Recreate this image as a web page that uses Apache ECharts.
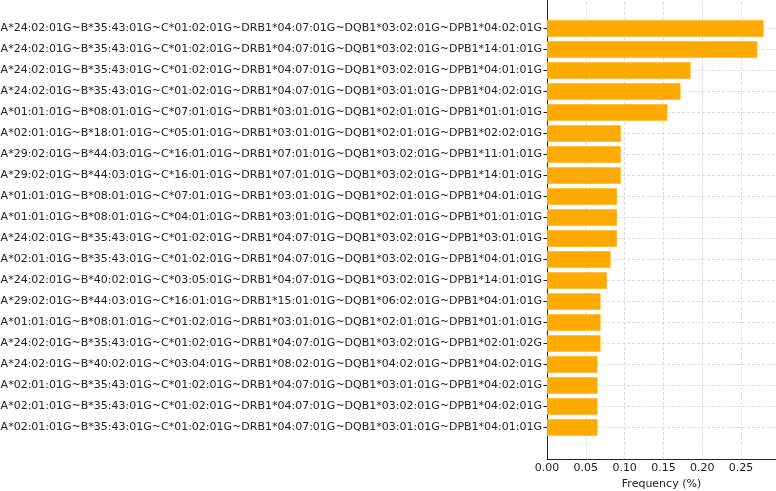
<!DOCTYPE html>
<html lang="en">
<head>
  <meta charset="UTF-8">
  <title>Haplotype frequency</title>
  <script src="https://cdn.jsdelivr.net/npm/echarts@6/dist/echarts.min.js"></script>
  <style>
    html, body { margin: 0; padding: 0; background: #fff; }
  </style>
</head>
<body>
<div id="main" style="width:776px;height:491px"></div>
<script>
  // haplotypes, top to bottom
  var haplotypes = [
    'A*24:02:01G~B*35:43:01G~C*01:02:01G~DRB1*04:07:01G~DQB1*03:02:01G~DPB1*04:02:01G',
    'A*24:02:01G~B*35:43:01G~C*01:02:01G~DRB1*04:07:01G~DQB1*03:02:01G~DPB1*14:01:01G',
    'A*24:02:01G~B*35:43:01G~C*01:02:01G~DRB1*04:07:01G~DQB1*03:02:01G~DPB1*04:01:01G',
    'A*24:02:01G~B*35:43:01G~C*01:02:01G~DRB1*04:07:01G~DQB1*03:01:01G~DPB1*04:02:01G',
    'A*01:01:01G~B*08:01:01G~C*07:01:01G~DRB1*03:01:01G~DQB1*02:01:01G~DPB1*01:01:01G',
    'A*02:01:01G~B*18:01:01G~C*05:01:01G~DRB1*03:01:01G~DQB1*02:01:01G~DPB1*02:02:01G',
    'A*29:02:01G~B*44:03:01G~C*16:01:01G~DRB1*07:01:01G~DQB1*03:02:01G~DPB1*11:01:01G',
    'A*29:02:01G~B*44:03:01G~C*16:01:01G~DRB1*07:01:01G~DQB1*03:02:01G~DPB1*14:01:01G',
    'A*01:01:01G~B*08:01:01G~C*07:01:01G~DRB1*03:01:01G~DQB1*02:01:01G~DPB1*04:01:01G',
    'A*01:01:01G~B*08:01:01G~C*04:01:01G~DRB1*03:01:01G~DQB1*02:01:01G~DPB1*01:01:01G',
    'A*24:02:01G~B*35:43:01G~C*01:02:01G~DRB1*04:07:01G~DQB1*03:02:01G~DPB1*03:01:01G',
    'A*02:01:01G~B*35:43:01G~C*01:02:01G~DRB1*04:07:01G~DQB1*03:02:01G~DPB1*04:01:01G',
    'A*24:02:01G~B*40:02:01G~C*03:05:01G~DRB1*04:07:01G~DQB1*03:02:01G~DPB1*14:01:01G',
    'A*29:02:01G~B*44:03:01G~C*16:01:01G~DRB1*15:01:01G~DQB1*06:02:01G~DPB1*04:01:01G',
    'A*01:01:01G~B*08:01:01G~C*01:02:01G~DRB1*03:01:01G~DQB1*02:01:01G~DPB1*01:01:01G',
    'A*24:02:01G~B*35:43:01G~C*01:02:01G~DRB1*04:07:01G~DQB1*03:02:01G~DPB1*02:01:02G',
    'A*24:02:01G~B*40:02:01G~C*03:04:01G~DRB1*08:02:01G~DQB1*04:02:01G~DPB1*04:02:01G',
    'A*02:01:01G~B*35:43:01G~C*01:02:01G~DRB1*04:07:01G~DQB1*03:01:01G~DPB1*04:02:01G',
    'A*02:01:01G~B*35:43:01G~C*01:02:01G~DRB1*04:07:01G~DQB1*03:02:01G~DPB1*04:02:01G',
    'A*02:01:01G~B*35:43:01G~C*01:02:01G~DRB1*04:07:01G~DQB1*03:01:01G~DPB1*04:01:01G'
  ];
  var frequency = [0.279, 0.271, 0.185, 0.172, 0.155, 0.095, 0.095, 0.095, 0.090, 0.090,
                   0.090, 0.082, 0.077, 0.069, 0.069, 0.069, 0.065, 0.065, 0.065, 0.065];
  var xTicks = [0, 0.05, 0.10, 0.15, 0.20, 0.25];

  // one empty slot above and below so the bars sit away from the spines
  var yData = [''].concat(haplotypes, ['']);
  var barData = ['-'].concat(frequency, ['-']);

  var font = 'DejaVu Sans';
  var chart = echarts.init(document.getElementById('main'));
  var notBlank = function (i, v) { return v !== ''; };

  chart.setOption({
    animation: false,
    textStyle: { fontFamily: font },
    grid: { left: 547, right: 0, top: -3, bottom: 32, outerBoundsMode: 'none', containLabel: false },
    xAxis: {
      type: 'value',
      min: 0,
      max: 0.295,
      interval: xTicks[1] - xTicks[0],
      name: 'Frequency (%)',
      nameLocation: 'middle',
      nameGap: 18,
      nameTextStyle: { fontFamily: font, fontSize: 11, color: '#222' },
      axisLine: { show: true, lineStyle: { color: '#222', width: 1 } },
      axisTick: { show: false },
      axisLabel: {
        fontFamily: font, fontSize: 11, color: '#222', margin: 4,
        showMaxLabel: false,
        formatter: function (v) { return v.toFixed(2); }
      },
      splitLine: { show: true, lineStyle: { color: '#d4d4d4', type: [3, 2], width: 0.8 } }
    },
    yAxis: {
      type: 'category',
      inverse: true,
      data: yData,
      axisLine: { show: true, onZero: false, lineStyle: { color: '#222', width: 1 } },
      axisTick: { show: true, alignWithLabel: true, length: 3.5, interval: notBlank,
                  lineStyle: { color: '#222' } },
      axisLabel: { fontFamily: font, fontSize: 11, color: '#222', margin: 5, interval: 0 },
      splitLine: { show: true, alignWithLabel: true, interval: notBlank,
                   lineStyle: { color: '#d4d4d4', type: [3, 2], width: 0.8 } }
    },
    series: [{
      type: 'bar',
      data: barData,
      barWidth: '78%',
      itemStyle: { color: '#FFAA00' }
    }]
  });
</script>
</body>
</html>
